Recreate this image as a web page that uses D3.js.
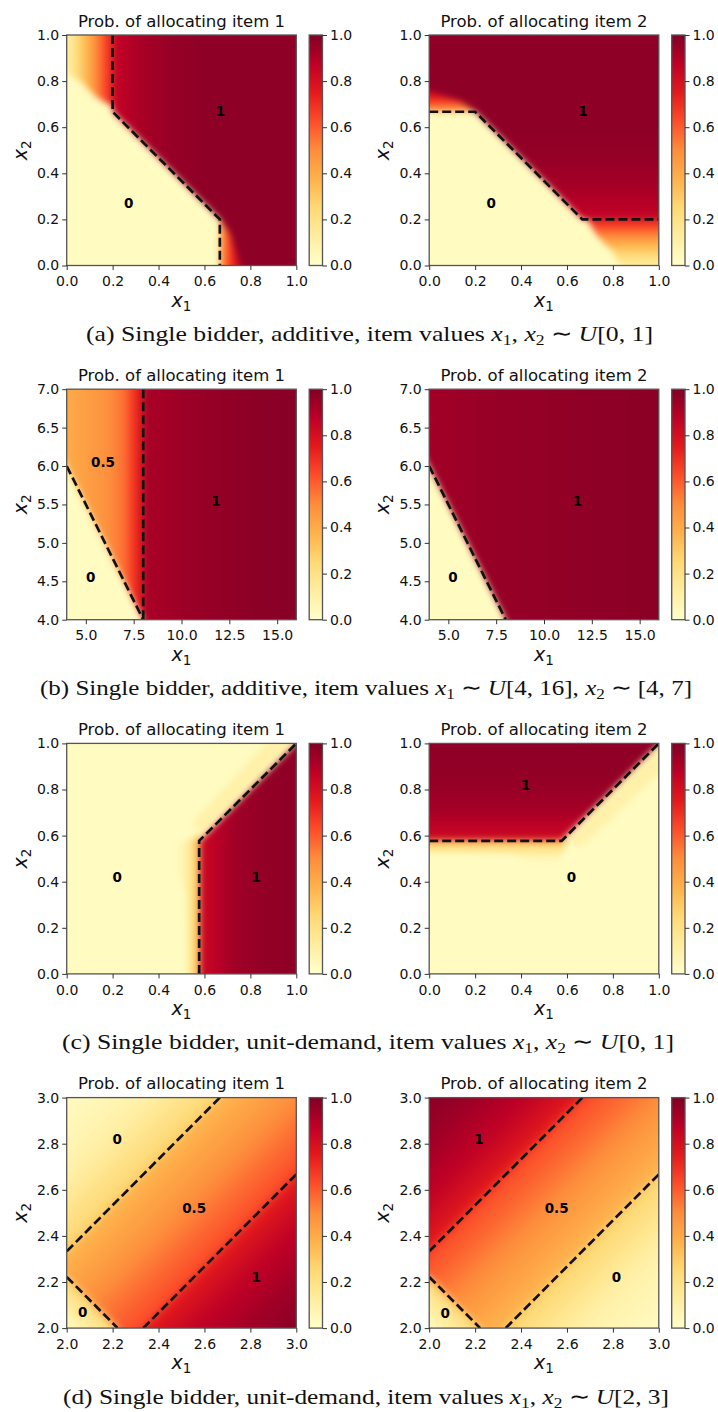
<!DOCTYPE html>
<html><head><meta charset="utf-8">
<script src="https://cdn.jsdelivr.net/npm/d3@7"></script>
<style>body{margin:0;background:#fff} svg{display:block} text{white-space:pre}</style>
</head><body><svg id="fig" width="718" height="1412"></svg>
<script>
// ---------------- data ----------------
const cmapStops = ["#ffffcc","#ffeda0","#fed976","#feb24c","#fd8d3c","#fc4e2a","#e31a1c","#bd0026","#800026"];
const panelTitles = ["Prob. of allocating item 1", "Prob. of allocating item 2"];
const captions = [
  "(a) Single bidder, additive, item values $x_1, x_2 \u223C U[0, 1]$",
  "(b) Single bidder, additive, item values $x_1 \u223C U[4, 16]$, $x_2 \u223C [4, 7]$",
  "(c) Single bidder, unit-demand, item values $x_1, x_2 \u223C U[0, 1]$",
  "(d) Single bidder, unit-demand, item values $x_1, x_2 \u223C U[2, 3]$"
];
const xDomains = [[0,1],[4,16],[0,1],[2,3]];
const yDomains = [[0,1],[4,7],[0,1],[2,3]];
const xTickValues = [[0,0.2,0.4,0.6,0.8,1],[5,7.5,10,12.5,15],[0,0.2,0.4,0.6,0.8,1],[2,2.2,2.4,2.6,2.8,3]];
const yTickValues = [[0,0.2,0.4,0.6,0.8,1],[4,4.5,5,5.5,6,6.5,7],[0,0.2,0.4,0.6,0.8,1],[2,2.2,2.4,2.6,2.8,3]];
const cbarTicks = [0,0.2,0.4,0.6,0.8,1];

// regions: [polygon (data coords), gradient axis [x0,y0,x1,y1] or null, values along axis]
const regionsA1 = [
  [[[-0.1,-0.1],[1.1,-0.1],[1.1,1.1],[-0.1,1.1]], null, [0.03]],
  [[[-0.1,1.1],[0.2,1.1],[0.2,0.69],[0.13,0.73],[0.06,0.8],[-0.1,0.88]], [0,0,0.2,0], [0.1,0.3,0.52,0.75]],
  [[[0.2,1.1],[0.2,0.667],[0.667,0.2],[0.69,0.12],[0.69,-0.1],[1.1,-0.1],[1.1,1.1]], [0.2,0,0.6,0], [0.85,0.92,0.955,0.97]],
  [[[0.667,0.2],[0.71,0.14],[0.79,-0.1],[0.667,-0.1]], [0.67,0,0.79,0], [0.45,0.75,0.92]]
];
const regionsA2 = [
  [[[-0.1,-0.1],[1.1,-0.1],[1.1,1.1],[-0.1,1.1]], null, [0.03]],
  [[[1.1,-0.1],[1.1,0.2],[0.69,0.2],[0.73,0.13],[0.8,0.06],[0.88,-0.1]], [0,0,0,0.2], [0.12,0.3,0.52,0.75]],
  [[[1.1,0.2],[0.667,0.2],[0.2,0.667],[0.12,0.69],[-0.1,0.69],[-0.1,1.1],[1.1,1.1]], [0,0.2,0,0.6], [0.85,0.92,0.955,0.97]],
  [[[0.2,0.667],[0.14,0.71],[-0.1,0.79],[-0.1,0.667]], [0,0.67,0,0.79], [0.45,0.75,0.92]]
];
const regionsB1 = [
  [[[3,3.5],[17,3.5],[17,7.5],[3,7.5]], null, [0.03]],
  [[[3,7.5],[8,7.5],[8,4],[4,6],[3,6.5]], [4,0,8,0], [0.4,0.44,0.48,0.56,0.8]],
  [[[8,3.5],[17,3.5],[17,7.5],[8,7.5]], [8,0,16,0], [0.91,0.94,0.96,0.975,0.985]]
];
const regionsB2 = [
  [[[3,3.5],[17,3.5],[17,7.5],[3,7.5]], null, [0.03]],
  [[[3,7.5],[3,6.5],[4,6],[8,4],[8.5,3.5],[17,3.5],[17,7.5]], [4,0,16,0], [0.93,0.95,0.96,0.97,0.975]]
];
const regionsC1 = [
  [[[-0.1,-0.1],[1.1,-0.1],[1.1,1.1],[-0.1,1.1]], null, [0.03]],
  [[[0.53,-0.1],[0.577,-0.1],[0.577,0.6],[0.45,0.55],[0.52,0.35]], [0.48,0,0.577,0], [0.03,0.12,0.36]],
  [[[0.577,0.6],[1.0,1.02],[0.96,1.1],[0.55,0.66]], null, [0.1]],
  [[[0.58,-0.1],[0.58,0.577],[1.0,1.0],[1.1,1.1],[1.1,-0.1]], [0.58,0,1,0], [0.82,0.93,0.96,0.97]]
];
const regionsC2 = [
  [[[-0.1,-0.1],[1.1,-0.1],[1.1,1.1],[-0.1,1.1]], null, [0.03]],
  [[[-0.1,0.53],[-0.1,0.577],[0.6,0.577],[0.55,0.45],[0.35,0.52]], [0,0.48,0,0.577], [0.03,0.12,0.36]],
  [[[0.6,0.577],[1.02,1.0],[1.1,0.96],[0.66,0.55]], null, [0.1]],
  [[[-0.1,0.58],[0.577,0.58],[1.0,1.0],[1.1,1.1],[-0.1,1.1]], [0,0.58,0,1], [0.82,0.93,0.96,0.97]]
];
const regionsD1 = [
  [[[1.9,1.9],[3.1,1.9],[3.1,3.1],[1.9,3.1]], null, [0.03]],
  [[[1.9,2.233],[2.767,3.1],[1.9,3.1]], [2,3,2.333,2.667], [0.03,0.1,0.27]],
  [[[1.9,2.233],[2.767,3.1],[3.1,3.1],[3.1,2.767],[2.233,1.9],[1.9,1.9]], [2.333,2.667,2.667,2.333], [0.36,0.45,0.55,0.64]],
  [[[2.233,1.9],[3.1,2.767],[3.1,1.9]], [2.667,2.333,3,2], [0.74,0.86,0.93,0.98]],
  [[[1.9,1.9],[2.25,1.9],[2.222,2],[2,2.222],[1.9,2.3]], [2,2,2.111,2.111], [0.03,0.25]]
];
const regionsD2 = [
  [[[1.9,1.9],[3.1,1.9],[3.1,3.1],[1.9,3.1]], null, [0.03]],
  [[[2.233,1.9],[3.1,2.767],[3.1,1.9]], [3,2,2.667,2.333], [0.03,0.1,0.27]],
  [[[2.233,1.9],[3.1,2.767],[3.1,3.1],[2.767,3.1],[1.9,2.233],[1.9,1.9]], [2.667,2.333,2.333,2.667], [0.36,0.45,0.55,0.64]],
  [[[1.9,2.233],[2.767,3.1],[1.9,3.1]], [2.333,2.667,2,3], [0.74,0.86,0.93,0.98]],
  [[[1.9,1.9],[1.9,2.25],[2,2.222],[2.222,2],[2.3,1.9]], [2,2,2.111,2.111], [0.03,0.25]]
];

// dashed boundary polylines
const boundaryA1 = [[[0.2,1],[0.2,0.667],[0.667,0.2],[0.667,0]]];
const boundaryA2 = [[[0,0.667],[0.2,0.667],[0.667,0.2],[1,0.2]]];
const boundaryB1 = [[[4,6],[8,4]], [[8,7],[8,4]]];
const boundaryB2 = [[[4,6],[8,4]]];
const boundaryC1 = [[[0.577,0],[0.577,0.577],[1,1]]];
const boundaryC2 = [[[0,0.577],[0.577,0.577],[1,1]]];
const boundaryD1 = [[[2,2.333],[2.667,3]], [[2.333,2],[3,2.667]], [[2,2.222],[2.222,2]]];
const boundaryD2 = [[[2,2.333],[2.667,3]], [[2.333,2],[3,2.667]], [[2,2.222],[2.222,2]]];

// region labels [text, x, y]
const labelsA1 = [["1",0.67,0.67],["0",0.27,0.27]];
const labelsA2 = [["1",0.67,0.67],["0",0.27,0.27]];
const labelsB1 = [["0.5",5.9,6.05],["1",11.8,5.55],["0",5.26,4.56]];
const labelsB2 = [["1",11.75,5.55],["0",5.24,4.56]];
const labelsC1 = [["0",0.22,0.42],["1",0.825,0.42]];
const labelsC2 = [["1",0.42,0.82],["0",0.62,0.42]];
const labelsD1 = [["0",2.22,2.82],["0.5",2.555,2.52],["1",2.825,2.22],["0",2.07,2.068]];
const labelsD2 = [["1",2.217,2.82],["0.5",2.555,2.52],["0",2.816,2.22],["0",2.07,2.066]];

// ---------------- layout / style ----------------
const L = {rowTop0: 35, rowStep: 354.2, plotW: 229.6, plotH: 230.5, colX: [66.7, 429.2],
           cbGap: 12.9, cbW: 13.3, blur: [3, 3, 3, 4], capDy: 306,
           capX: [369.5, 366, 368, 366], capW: [567, 652, 612, 606]};

const panels = [
  {row:0,col:0,regions:regionsA1,bounds:boundaryA1,labels:labelsA1},
  {row:0,col:1,regions:regionsA2,bounds:boundaryA2,labels:labelsA2},
  {row:1,col:0,regions:regionsB1,bounds:boundaryB1,labels:labelsB1},
  {row:1,col:1,regions:regionsB2,bounds:boundaryB2,labels:labelsB2},
  {row:2,col:0,regions:regionsC1,bounds:boundaryC1,labels:labelsC1},
  {row:2,col:1,regions:regionsC2,bounds:boundaryC2,labels:labelsC2},
  {row:3,col:0,regions:regionsD1,bounds:boundaryD1,labels:labelsD1},
  {row:3,col:1,regions:regionsD2,bounds:boundaryD2,labels:labelsD2}
];

const svg = d3.select("#fig");
svg.append("rect").attr("width",718).attr("height",1412).attr("fill","#fff");
const defs = svg.append("defs");
const color = d3.scaleLinear().domain(cmapStops.map((c,i)=>i/8)).range(cmapStops)
  .interpolate(d3.interpolateRgb).clamp(true);

const cbg = defs.append("linearGradient").attr("id","cbgrad").attr("x1",0).attr("y1",1).attr("x2",0).attr("y2",0);
cmapStops.forEach((c,i)=>cbg.append("stop").attr("offset",i/8).attr("stop-color",c));

const FONT = "DejaVu Sans";
const fmt = d3.format(".1f");

function mathLabel(sel, letter, sub, size, subSize) {
  sel.append("tspan").attr("font-style","italic").text(letter);
  sel.append("tspan").attr("font-size",subSize).attr("dy",size*0.22).text(sub);
}

panels.forEach((p, idx) => {
  const top = L.rowTop0 + p.row*L.rowStep, left = L.colX[p.col];
  const x = d3.scaleLinear().domain(xDomains[p.row]).range([left, left+L.plotW]);
  const y = d3.scaleLinear().domain(yDomains[p.row]).range([top+L.plotH, top]);

  defs.append("clipPath").attr("id","clip"+idx).append("rect")
    .attr("x",left).attr("y",top).attr("width",L.plotW).attr("height",L.plotH);
  const filt = defs.append("filter").attr("id","bl"+idx).attr("filterUnits","userSpaceOnUse")
    .attr("x",left-60).attr("y",top-60).attr("width",L.plotW+120).attr("height",L.plotH+120)
    .attr("color-interpolation-filters","sRGB");
  filt.append("feGaussianBlur").attr("stdDeviation", L.blur[p.row]);

  const heat = svg.append("g").attr("clip-path",`url(#clip${idx})`);
  const inner = heat.append("g").attr("filter",`url(#bl${idx})`);
  p.regions.forEach((r, ri) => {
    const [pts, ax, vals] = r;
    let fill;
    if (!ax || vals.length === 1) fill = color(vals[0]);
    else {
      const gid = `gr${idx}_${ri}`;
      const lg = defs.append("linearGradient").attr("id",gid).attr("gradientUnits","userSpaceOnUse")
        .attr("x1",x(ax[0])).attr("y1",y(ax[1])).attr("x2",x(ax[2])).attr("y2",y(ax[3]));
      const vs = d3.scaleLinear().domain(vals.map((v,i)=>i/(vals.length-1))).range(vals);
      const m = 32;
      for (let k=0;k<=m;k++) { const t=k/m; lg.append("stop").attr("offset",t).attr("stop-color",color(vs(t))); }
      fill = `url(#${gid})`;
    }
    inner.append("path").attr("d","M"+pts.map(q=>x(q[0])+","+y(q[1])).join("L")+"Z").attr("fill",fill);
  });

  const line = d3.line().x(d=>x(d[0])).y(d=>y(d[1]));
  const bg = svg.append("g").attr("clip-path",`url(#clip${idx})`);
  p.bounds.forEach(b => bg.append("path").attr("d",line(b)).attr("fill","none")
    .attr("stroke","#111").attr("stroke-width",2.7).attr("stroke-dasharray","9,4"));

  p.labels.forEach(([t,lx,ly]) => svg.append("text").attr("x",x(lx)).attr("y",y(ly))
    .attr("text-anchor","middle").attr("dominant-baseline","central")
    .attr("font-family",FONT).attr("font-weight","bold").attr("font-size",13.5).attr("fill","#000").text(t));

  svg.append("rect").attr("x",left).attr("y",top).attr("width",L.plotW).attr("height",L.plotH)
    .attr("fill","none").attr("stroke","#555").attr("stroke-width",1.3);

  const styleAxis = g => { g.attr("font-size",14).attr("font-family",FONT); g.select(".domain").remove();
    g.selectAll("text").attr("fill","#111"); g.selectAll("line").attr("stroke","#333"); };
  svg.append("g").attr("transform",`translate(0,${top+L.plotH})`)
    .call(d3.axisBottom(x).tickValues(xTickValues[p.row]).tickFormat(fmt).tickSize(4.5).tickPadding(6.3)).call(styleAxis);
  svg.append("g").attr("transform",`translate(${left},0)`)
    .call(d3.axisLeft(y).tickValues(yTickValues[p.row]).tickFormat(fmt).tickSize(4.5).tickPadding(3)).call(styleAxis);

  svg.append("text").attr("x",left+L.plotW/2).attr("y",top-8.5).attr("text-anchor","middle")
    .attr("font-family",FONT).attr("font-size",16.5).attr("fill","#111").text(panelTitles[p.col]);

  const xl = svg.append("text").attr("x",left+L.plotW/2).attr("y",top+L.plotH+41).attr("text-anchor","middle")
    .attr("font-family",FONT).attr("font-size",19).attr("fill","#111");
  mathLabel(xl,"x","1",19,13.5);
  const yl = svg.append("text").attr("transform",`translate(${left-40},${top+L.plotH/2}) rotate(-90)`)
    .attr("text-anchor","middle").attr("font-family",FONT).attr("font-size",19).attr("fill","#111");
  mathLabel(yl,"x","2",19,13.5);

  const cbx = left + L.plotW + L.cbGap;
  svg.append("rect").attr("x",cbx).attr("y",top).attr("width",L.cbW).attr("height",L.plotH)
    .attr("fill","url(#cbgrad)").attr("stroke","#555").attr("stroke-width",1.3);
  const ycb = d3.scaleLinear().domain([0,1]).range([top+L.plotH, top]);
  svg.append("g").attr("transform",`translate(${cbx+L.cbW},0)`)
    .call(d3.axisRight(ycb).tickValues(cbarTicks).tickFormat(fmt).tickSize(4.5).tickPadding(3)).call(styleAxis);
});

function richText(sel, str, subSize, shift) {
  let pending = 0;
  const add = (txt, italic, sub) => {
    const t = sel.append("tspan").text(txt);
    if (italic) t.attr("font-style","italic");
    let dy = pending; pending = 0;
    if (sub) { t.attr("font-size", subSize); dy += shift; pending = -shift; }
    if (dy) t.attr("dy", dy);
  };
  str.split("$").forEach((part, i) => {
    if (i % 2 === 0) { if (part) add(part,false,false); return; }
    let j = 0;
    while (j < part.length) {
      const ch = part[j];
      if (/[A-Za-z]/.test(ch)) { add(ch,true,false); j++; }
      else if (ch === "_") { add(part[j+1],false,true); j += 2; }
      else { let k=j; while (k<part.length && !/[A-Za-z_]/.test(part[k])) k++; add(part.slice(j,k),false,false); j=k; }
    }
  });
}
captions.forEach((c, r) => {
  const t = svg.append("text").attr("x",L.capX[r]).attr("y",L.rowTop0 + r*L.rowStep + L.capDy)
    .attr("text-anchor","middle").attr("font-family","Liberation Serif").attr("font-size",22).attr("fill","#111")
    .attr("textLength", L.capW[r]).attr("lengthAdjust","spacingAndGlyphs");
  richText(t, c, 15, 4);
});
</script></body></html>
